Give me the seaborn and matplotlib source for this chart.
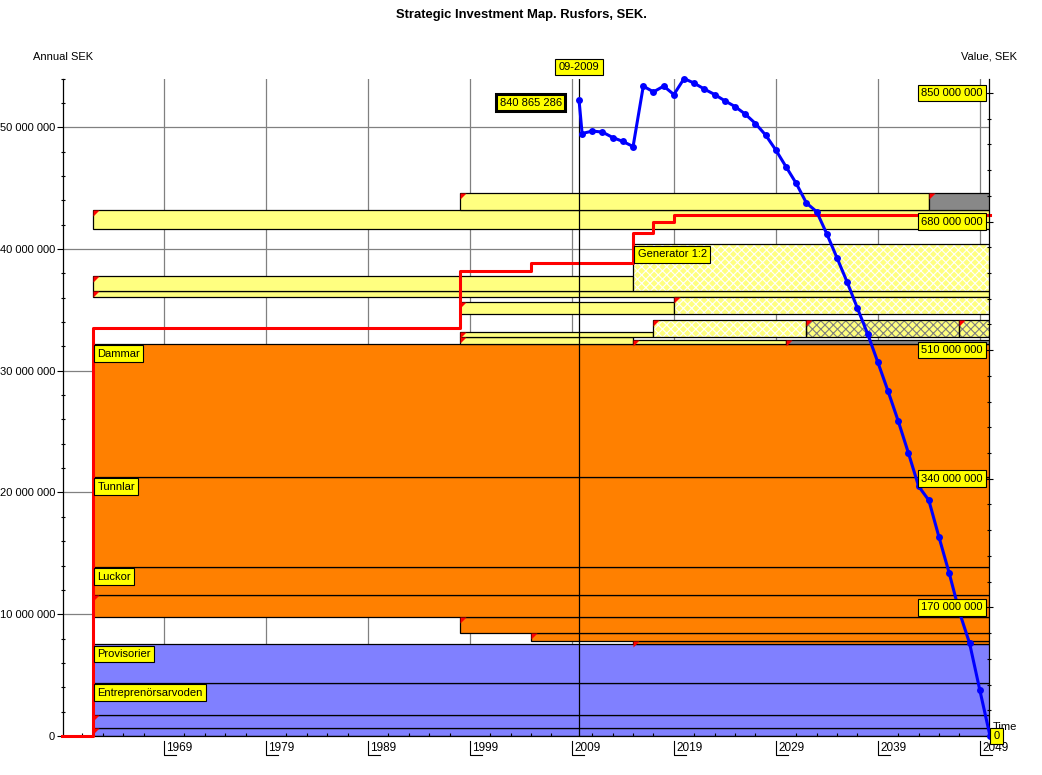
import numpy as np
import matplotlib
matplotlib.use("Agg")
import matplotlib.pyplot as plt
import matplotlib.transforms as mtransforms
from matplotlib.path import Path
from matplotlib.ticker import FixedLocator
import seaborn as sns

# ---------------- data ----------------
TITLE = "Strategic Investment Map. Rusfors, SEK."
LEFT_TITLE = "Annual SEK"
RIGHT_TITLE = "Value, SEK"
TIME_LABEL = "Time"
NOW_YEAR = 2009.7
NOW_LABEL = "09-2009"
START_VALUE_LABEL = "840 865 286"

x_ticks = [1969, 1979, 1989, 1999, 2009, 2019, 2029, 2039, 2049]
x_tick_labels = ["1969", "1979", "1989", "1999", "2009", "2019", "2029", "2039", "2049"]
left_ticks = [0, 10, 20, 30, 40, 50]            # million SEK (annual)
left_tick_labels = ["0", "10 000 000", "20 000 000", "30 000 000", "40 000 000", "50 000 000"]
right_ticks = [0, 170, 340, 510, 680, 850]      # million SEK (value)
right_tick_labels = ["0", "170 000 000", "340 000 000", "510 000 000", "680 000 000", "850 000 000"]

# investment segments (years, million SEK annual)
seg_start = [1962, 1962, 1962, 1962,
             2015, 2005, 1998, 1962, 1962, 1962, 1962,
             1998, 2015, 2030,
             1998, 2017, 2032, 2047,
             1998, 2019,
             1962,
             1962, 2015,
             1962,
             1998, 2044]
seg_end = [2050, 2050, 2050, 2050,
           2050, 2050, 2050, 2050, 2050, 2050, 2050,
           2015, 2030, 2050,
           2017, 2032, 2047, 2050,
           2019, 2050,
           2050,
           2015, 2050,
           2050,
           2044, 2050]
seg_bottom = [0.00, 0.68, 1.72, 4.38,
              7.55, 7.84, 8.50, 9.75, 11.55, 13.92, 21.30,
              32.22, 32.22, 32.22,
              32.76, 32.76, 32.76, 32.76,
              34.62, 34.62,
              36.02,
              36.56, 36.56,
              41.60,
              43.18, 43.18]
seg_top = [0.68, 1.72, 4.38, 7.55,
           7.84, 8.50, 9.75, 11.55, 13.92, 21.30, 32.22,
           32.76, 32.49, 32.49,
           33.14, 34.15, 34.15, 34.15,
           35.61, 36.02,
           36.56,
           37.79, 40.37,
           43.18,
           44.56, 44.56]
seg_kind = ["blue", "blue", "blue", "blue",
            "orange", "orange", "orange", "orange", "orange", "orange", "orange",
            "yellow", "yellow", "gray",
            "yellow", "hatch", "grayhatch", "grayhatch",
            "yellow", "hatch",
            "yellow",
            "yellow", "hatch",
            "yellow",
            "yellow", "gray"]
seg_flag = [True, True, False, False,
            True, True, True, True, False, False, False,
            True, True, True,
            True, True, True, True,
            True, True,
            True,
            True, False,
            True,
            True, True]
seg_label = ["", "", "Entreprenörsarvoden", "Provisorier",
             "", "", "", "", "Luckor", "Tunnlar", "Dammar",
             "", "", "",
             "", "", "", "",
             "", "",
             "",
             "", "Generator 1:2",
             "",
             "", ""]

# cumulative annual cost (red step line), million SEK
step_years = [1959, 1962, 1998, 2005, 2015, 2017, 2019, 2050]
step_values = [0.0, 33.52, 38.20, 38.86, 41.35, 42.18, 42.78, 42.78]

# value curve (blue, right axis), million SEK
value_years = [2009.7, 2010, 2011, 2012, 2013, 2014, 2015, 2016, 2017, 2018, 2019,
               2020, 2021, 2022, 2023, 2024, 2025, 2026, 2027, 2028, 2029,
               2030, 2031, 2032, 2033, 2034, 2035, 2036, 2037, 2038, 2039,
               2040, 2041, 2042, 2043, 2044, 2045, 2046, 2047, 2048, 2049, 2050]
value_msek = [840.87, 796.3, 799.5, 798.2, 791.0, 785.8, 779.1, 858.9, 851.3, 858.9, 847.8,
              868.9, 862.8, 854.9, 847.8, 839.5, 831.9, 821.9, 809.5, 794.2, 774.4,
              752.3, 730.3, 704.4, 693.0, 663.5, 631.8, 599.6, 565.3, 531.5, 494.0,
              455.8, 416.2, 373.9, 330.0, 311.5, 262.7, 215.1, 163.7, 122.4, 60.7, 0.0]

# ---------------- styles ----------------
KIND_STYLE = {
    "blue": dict(face="#8080FF", hatch=None, hcol=None),
    "orange": dict(face="#FF8000", hatch=None, hcol=None),
    "yellow": dict(face="#FFFF80", hatch=None, hcol=None),
    "gray": dict(face="#888888", hatch=None, hcol=None),
    "hatch": dict(face="#FFFF80", hatch="xxxx", hcol="#FFFFFF"),
    "grayhatch": dict(face="#FFFF80", hatch="xxxx", hcol="#808080"),
}
BOX = dict(boxstyle="square,pad=0.3", fc="#FFFF00", ec="black", lw=0.8)

plt.rcParams["font.family"] = ["Liberation Sans", "DejaVu Sans"]
plt.rcParams["font.size"] = 8
plt.rcParams["hatch.linewidth"] = 0.8
plt.rcParams["text.color"] = "black"

W, H = 1042, 775
AX_L, AX_R, AX_T, AX_B = 63, 989, 78.5, 736
AXH = AX_B - AX_T
fig = plt.figure(figsize=(W / 100, H / 100), dpi=100, facecolor="white")
ax = fig.add_axes([AX_L / W, 1 - AX_B / H, (AX_R - AX_L) / W, AXH / H])
ax.set_facecolor("white")
ax2 = ax.twinx()

starts = np.array(seg_start, float)
ends = np.array(seg_end, float)
bottoms = np.array(seg_bottom, float)
tops = np.array(seg_top, float)
kinds = np.array(seg_kind)
flags = np.array(seg_flag)

# grid (behind bars)
for v in left_ticks[1:]:
    ax.axhline(v, color="#808080", lw=0.9, zorder=0.5)
for yr in x_ticks:
    ax.axvline(yr, color="#808080", lw=0.9, zorder=0.5)

# bars
for kind, st in KIND_STYLE.items():
    m = kinds == kind
    if not m.any():
        continue
    if st["hatch"] is None:
        ax.bar(starts[m], tops[m] - bottoms[m], width=ends[m] - starts[m], bottom=bottoms[m],
               align="edge", color=st["face"], edgecolor="black", linewidth=0.9, zorder=1)
    else:
        ax.bar(starts[m], tops[m] - bottoms[m], width=ends[m] - starts[m], bottom=bottoms[m],
               align="edge", color=st["face"], linewidth=0, zorder=1)
        ax.bar(starts[m], tops[m] - bottoms[m], width=ends[m] - starts[m], bottom=bottoms[m],
               align="edge", color="none", edgecolor=st["hcol"], hatch=st["hatch"],
               linewidth=0, zorder=1.1)
        ax.bar(starts[m], tops[m] - bottoms[m], width=ends[m] - starts[m], bottom=bottoms[m],
               align="edge", color="none", edgecolor="black", linewidth=0.9, zorder=1.2)

# red corner flags
tri = Path([(0, 0), (1, 0), (0, -1), (0, 0)],
           [Path.MOVETO, Path.LINETO, Path.LINETO, Path.CLOSEPOLY])
ax.scatter(starts[flags], tops[flags], marker=tri, s=75, color="#FF0000",
           linewidths=0, zorder=3)

# bar labels
for s, t, lab in zip(starts, tops, seg_label):
    if lab:
        ax.annotate(lab, xy=(s, t), xytext=(3.4, -3.6), textcoords="offset points",
                    ha="left", va="top", fontsize=8, bbox=BOX, zorder=6)

# red step line
sns.lineplot(x=step_years, y=step_values, ax=ax, color="#FF0000", lw=2.2,
             drawstyle="steps-post", zorder=4, clip_on=False, legend=False)

# current-date line
ax.axvline(NOW_YEAR, color="black", lw=0.9, zorder=4.5)
ax.annotate(NOW_LABEL, xy=(NOW_YEAR, 1), xycoords=("data", "axes fraction"),
            xytext=(0, 8.3), textcoords="offset points", ha="center", va="center",
            fontsize=8, bbox=BOX)

# value curve
sns.lineplot(x=value_years, y=value_msek, ax=ax2, color="#0000FF", lw=2.2,
             marker="o", markersize=5, mec="#0000FF", mew=0, zorder=5,
             clip_on=False, legend=False)
ax2.annotate(START_VALUE_LABEL, xy=(value_years[0], value_msek[0]), xytext=(-12.3, -2),
             textcoords="offset points", ha="right", va="center", fontsize=8,
             bbox=dict(boxstyle="square,pad=0.3", fc="#FFFF00", ec="black", lw=2.2),
             zorder=8)

# limits
ax.set_xlim(1959.1, 2049.9)
ax.set_ylim(0, 54)
ax2.set_ylim(0, 869)

# left axis
ax.set_yticks(left_ticks)
ax.set_yticklabels(left_tick_labels)
ax.yaxis.set_minor_locator(FixedLocator(np.arange(2, 55, 2)))
ax.tick_params(axis="y", which="major", direction="out", length=4.3, width=0.8,
               pad=1.5, labelsize=8, colors="black", left=True)
ax.tick_params(axis="y", which="minor", direction="inout", length=3, width=0.8,
               colors="black", left=True)

# bottom axis
ax.set_xticks(x_ticks)
ax.set_xticklabels([])
ax.xaxis.set_minor_locator(FixedLocator(np.arange(1961, 2050, 2)))
ax.tick_params(axis="x", which="major", length=0, labelbottom=False)
ax.tick_params(axis="x", which="minor", direction="in", length=2.5, width=0.8,
               colors="black", bottom=True)
xblend = ax.get_xaxis_transform()
for yr, lab in zip(x_ticks, x_tick_labels):
    ax.annotate(lab, xy=(yr, 0), xycoords=xblend, xytext=(1.6, -8.8),
                textcoords="offset points", ha="left", va="center", fontsize=8.5)
    ax.plot([yr, yr, yr + 1.15], [-5 / AXH, -19 / AXH, -19 / AXH], transform=xblend,
            color="black", lw=0.8, clip_on=False)

# right axis
ax2.set_yticks(right_ticks)
ax2.set_yticklabels([])
ax2.yaxis.set_minor_locator(FixedLocator(np.arange(34, 869, 34)))
ax2.tick_params(axis="y", which="major", direction="inout", length=5.5, width=0.8,
                colors="black", right=True, labelright=False)
ax2.tick_params(axis="y", which="minor", direction="inout", length=3.5, width=0.8,
                colors="black", right=True)
rblend = mtransforms.blended_transform_factory(ax2.transAxes, ax2.transData)
ax2.text(1.004, 0.006, TIME_LABEL, transform=ax2.transAxes, ha="left", va="bottom",
         fontsize=8, zorder=6)
for v, lab in zip(right_ticks, right_tick_labels):
    if v == 0:
        ax2.annotate(lab, xy=(1, v), xycoords=rblend, xytext=(3.1, 0),
                     textcoords="offset points", ha="left", va="center",
                     fontsize=8, bbox=BOX, zorder=7)
    else:
        ax2.annotate(lab, xy=(1, v), xycoords=rblend, xytext=(-4.5, 0),
                     textcoords="offset points", ha="right", va="center",
                     fontsize=8, bbox=BOX, zorder=7)

# spines
for sp in ["top", "right"]:
    ax.spines[sp].set_visible(False)
for sp in ["left", "bottom"]:
    ax.spines[sp].set_color("black")
    ax.spines[sp].set_linewidth(0.9)
for sp in ["top", "left", "bottom"]:
    ax2.spines[sp].set_visible(False)
ax2.spines["right"].set_color("black")
ax2.spines["right"].set_linewidth(0.9)
ax.set_xlabel("")
ax.set_ylabel("")
ax2.set_ylabel("")

# titles
ax.annotate(LEFT_TITLE, xy=(0, 1), xycoords="axes fraction", xytext=(0, 15.5),
            textcoords="offset points", ha="center", va="center", fontsize=8)
ax.annotate(RIGHT_TITLE, xy=(1, 1), xycoords="axes fraction", xytext=(0, 15.5),
            textcoords="offset points", ha="center", va="center", fontsize=8)
fig.text(0.5, 1 - 15 / H, TITLE, ha="center", va="center", fontsize=9.4, fontweight="bold")

fig.savefig("out.png", dpi=100, facecolor="white")
